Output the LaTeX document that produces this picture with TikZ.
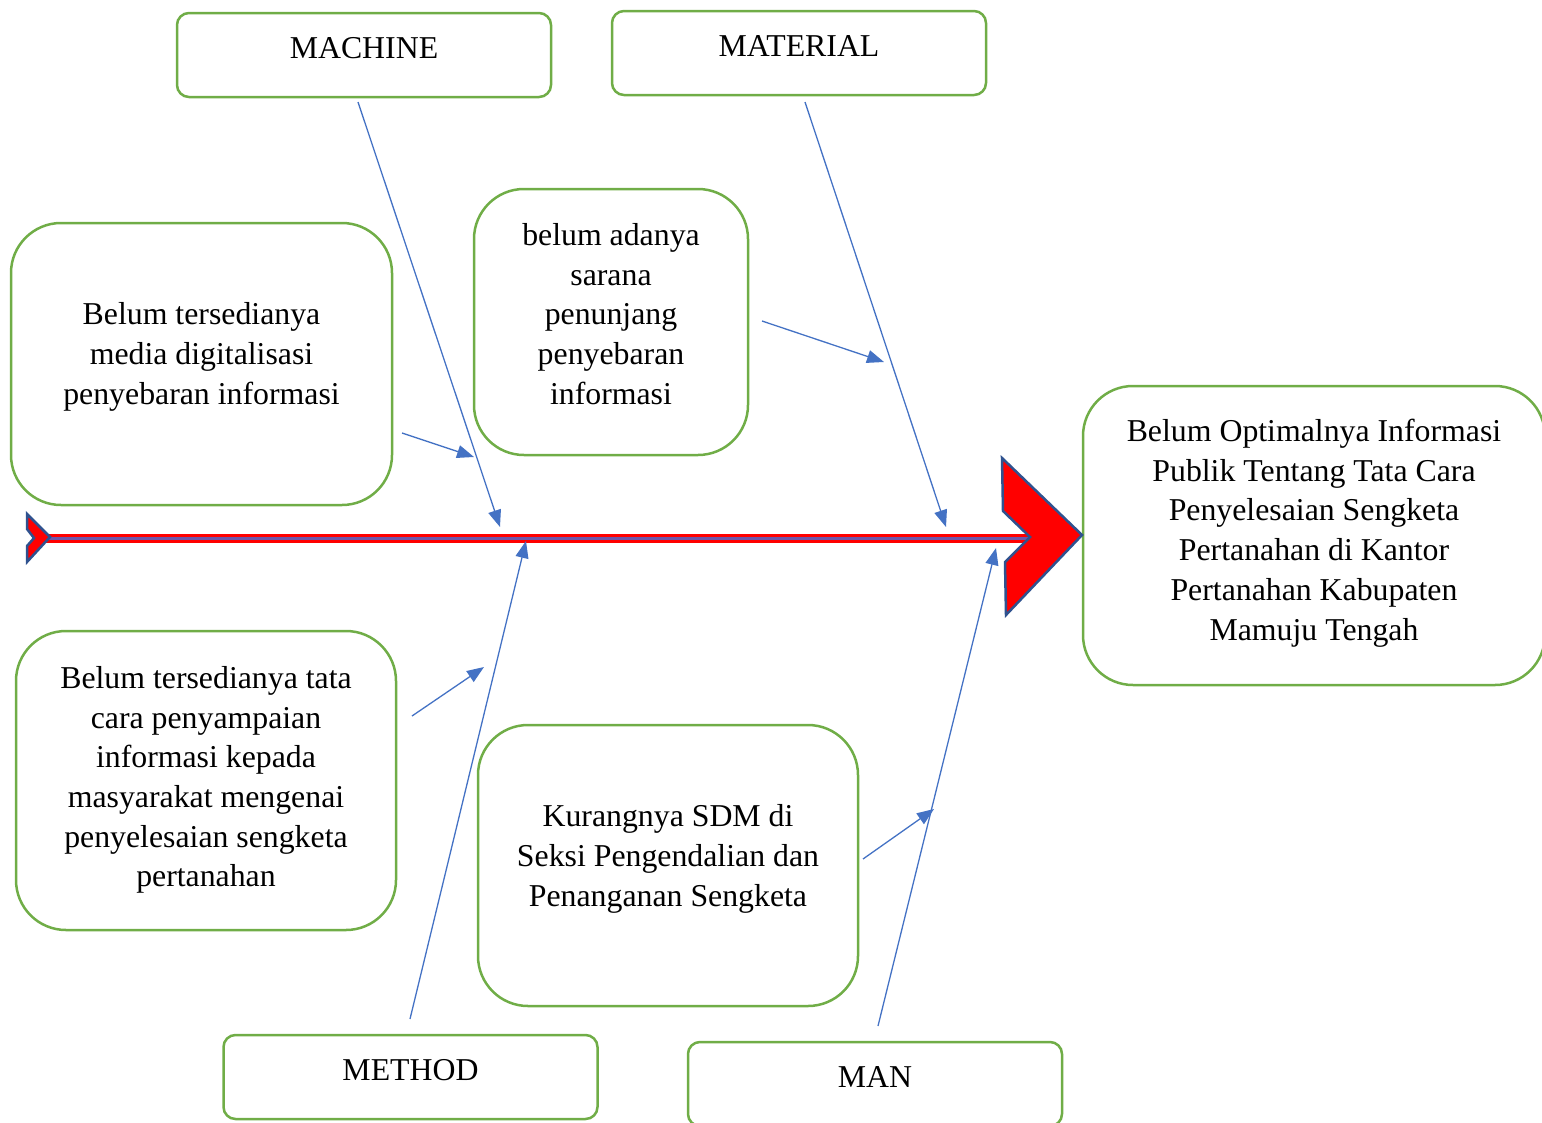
\documentclass[tikz,border=0pt]{standalone}
\usepackage{fontspec}
\setmainfont{Liberation Serif}
\usetikzlibrary{arrows.meta}
\definecolor{boxgreen}{HTML}{70AD47}
\definecolor{arrblue}{HTML}{4472C4}
\definecolor{spinered}{HTML}{FF0000}
\definecolor{edgeblue}{HTML}{2F528F}
\definecolor{spinemid}{HTML}{6F56A8}
\begin{document}
\begin{tikzpicture}[x=1pt,y=-1pt,
  bigfont/.style={font=\fontsize{31.8}{39.7}\selectfont},
  catbox/.style={draw=boxgreen, line width=2.5pt, rounded corners=12pt,
    minimum width=374pt, minimum height=84pt, inner sep=0pt, text depth=14pt, bigfont},
  causebox/.style={draw=boxgreen, line width=2.5pt, rounded corners=50pt, inner sep=0pt},
  txt/.style={align=center, inner sep=0pt, bigfont},
  link/.style={draw=arrblue, line width=1.3pt, -{Triangle[length=17pt,width=13pt]}},
  headshape/.style={fill=spinered, draw=edgeblue, line width=2.5pt, line join=miter}
]
\useasboundingbox (0,0) rectangle (1542,1122);

% category boxes
\node[catbox] (machine) at (364,55) {MACHINE};
\node[catbox] (material) at (799,53) {MATERIAL};
\node[catbox] (method) at (410.5,1077) {METHOD};
\node[catbox] (man) at (875,1084) {MAN};

% cause boxes
\node[causebox, minimum width=381pt, minimum height=282pt] (c1) at (201.5,364) {};
\node[txt] (c1t) at (201.5,357) {Belum tersedianya\\media digitalisasi\\penyebaran informasi};
\node[causebox, minimum width=274pt, minimum height=266pt] (c2) at (611,322) {};
\node[txt] (c2t) at (611,314) {belum adanya\\sarana\\penunjang\\penyebaran\\informasi};
\node[causebox, minimum width=380pt, minimum height=299pt] (c3) at (206,780.5) {};
\node[txt] (c3t) at (206,780) {Belum tersedianya tata\\cara penyampaian\\informasi kepada\\masyarakat mengenai\\penyelesaian sengketa\\pertanahan};
\node[causebox, minimum width=380pt, minimum height=281pt] (c4) at (668,865.5) {};
\node[txt] (c4t) at (668,859) {Kurangnya SDM di\\Seksi Pengendalian dan\\Penanganan Sengketa};

% effect box
\node[causebox, minimum width=462pt, minimum height=299pt] (effect) at (1314,535.5) {};
\node[txt] (effectt) at (1314,533) {Belum Optimalnya Informasi\\Publik Tentang Tata Cara\\Penyelesaian Sengketa\\Pertanahan di Kantor\\Pertanahan Kabupaten\\Mamuju Tengah};

% spine
\coordinate (tailtip) at (45,538);
\coordinate (headnotch) at (1030,538);
\draw[spinered, line width=9pt] (tailtip) -- (headnotch);
\draw[spinemid, line width=3pt] (tailtip) -- (headnotch);
\draw[headshape] (27,514) -- (27,529) -- (34,538) -- (27,546) -- (27,562) -- (50,537) -- cycle;
\draw[headshape] (1002,458) -- (1003,511) -- (1030,537) -- (1005,562) -- (1006,615) -- (1082,535) -- cycle;

% connector end points
\coordinate (machS) at (358,102);
\coordinate (machE) at (500,527);
\coordinate (c1S) at (402,433);
\coordinate (c1E) at (474,457);
\coordinate (matS) at (805,102);
\coordinate (matE) at (946,527);
\coordinate (c2S) at (762,321);
\coordinate (c2E) at (884,362);
\coordinate (methS) at (410,1019);
\coordinate (methE) at (526,541);
\coordinate (c3S) at (412,716);
\coordinate (c3E) at (484,667);
\coordinate (manS) at (878,1026);
\coordinate (manE) at (996,548);
\coordinate (c4S) at (863,859);
\coordinate (c4E) at (934,809);

\draw[link] (machS) -- (machE);
\draw[link] (c1S) -- (c1E);
\draw[link] (matS) -- (matE);
\draw[link] (c2S) -- (c2E);
\draw[link] (methS) -- (methE);
\draw[link] (c3S) -- (c3E);
\draw[link] (manS) -- (manE);
\draw[link] (c4S) -- (c4E);
\end{tikzpicture}
\end{document}
